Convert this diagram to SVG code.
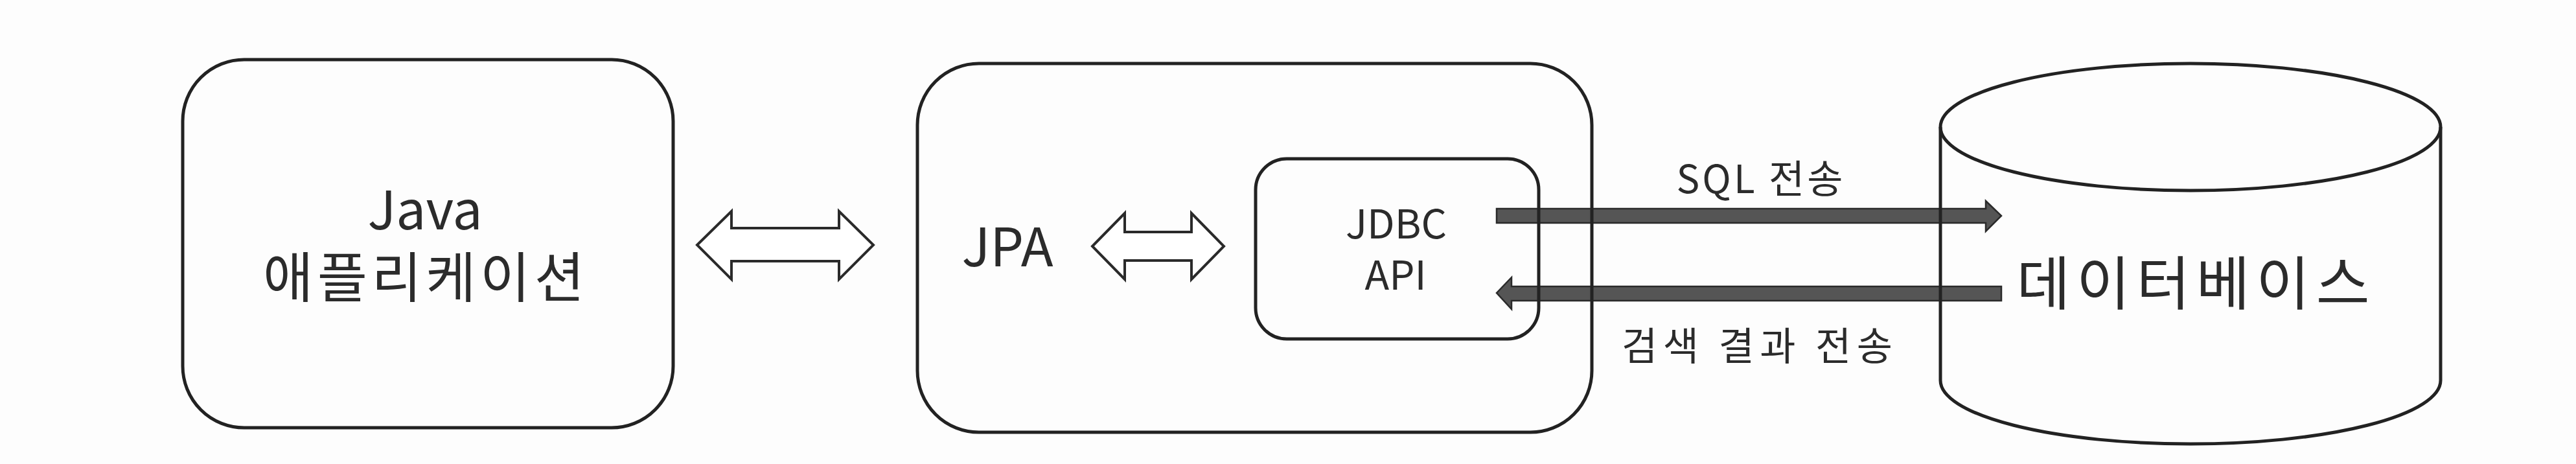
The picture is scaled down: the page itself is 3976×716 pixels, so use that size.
<svg xmlns="http://www.w3.org/2000/svg" width="3976" height="716" viewBox="0 0 3976 716">
  <style>
    .box { fill: none; stroke: #222; stroke-width: 5; }
    .txt { font-family: "Noto Sans CJK KR", "Noto Sans", sans-serif; fill: #2b2b2b; text-anchor: middle; }
    .dbl { fill: #fff; stroke: #2a2a2a; stroke-width: 4; stroke-linejoin: miter; }
    .flow { fill: #555; stroke: #2a2a2a; stroke-width: 2.5; stroke-linejoin: miter; }
  </style>
  <rect x="0" y="0" width="3976" height="716" fill="#fdfdfd"/>

  <g id="connectors">
    <polygon class="dbl" points="1076,378 1129,326 1129,352 1295,352 1295,326 1348,378 1295,431 1295,403 1129,403 1129,431"/>
    <polygon class="dbl" points="1686,380 1736,329 1736,358 1839,358 1839,329 1889,380 1839,431 1839,402 1736,402 1736,431"/>
    <polygon class="flow" points="2310,322 3065,322 3065,310 3089,333 3065,357 3065,344 2310,344"/>
    <polygon class="flow" points="2310,452 2333,428 2333,442 3089,442 3089,464 2333,464 2333,477"/>
    <text class="txt" x="2716" y="298" font-size="60" textLength="257" lengthAdjust="spacing">SQL 전송</text>
    <text class="txt" x="2712" y="556" font-size="60" textLength="418" lengthAdjust="spacing">검색 결과 전송</text>
  </g>

  <g id="java-app">
    <rect class="box" x="282" y="92" width="757" height="568" rx="95" ry="95"/>
    <text class="txt" x="656" y="354" font-size="82">Java</text>
    <text class="txt" x="654" y="459" font-size="84" textLength="496" lengthAdjust="spacing">애플리케이션</text>
  </g>

  <g id="jpa">
    <rect class="box" x="1416" y="98" width="1041" height="569" rx="95" ry="95"/>
    <text class="txt" x="1555" y="411" font-size="82">JPA</text>
  </g>

  <g id="jdbc-api">
    <rect class="box" x="1938" y="245" width="437" height="278" rx="48" ry="48"/>
    <text class="txt" x="2155" y="368" font-size="62">JDBC</text>
    <text class="txt" x="2154" y="447" font-size="62">API</text>
  </g>

  <g id="database">
    <path class="box" stroke-width="6" d="M2995 196 L2995 587 A386 98 0 0 0 3767 587 L3767 196"/>
    <ellipse class="box" stroke-width="6" cx="3381" cy="196" rx="386" ry="98"/>
    <text class="txt" x="3385" y="470" font-size="90" textLength="545" lengthAdjust="spacing">데이터베이스</text>
  </g>
</svg>
